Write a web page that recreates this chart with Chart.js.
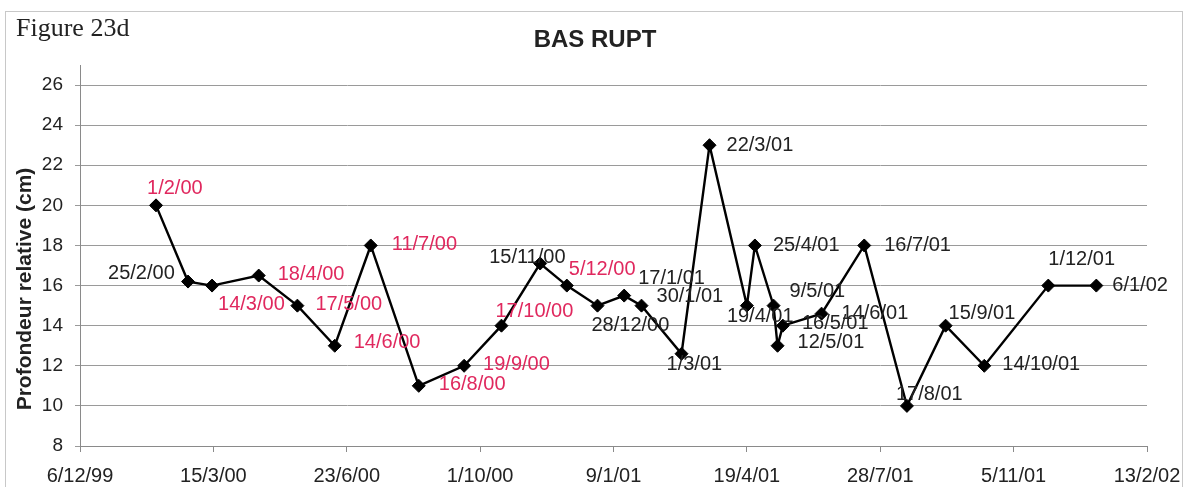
<!DOCTYPE html>
<html>
<head>
<meta charset="utf-8">
<title>BAS RUPT</title>
<script src="https://cdn.jsdelivr.net/npm/chart.js@4.4.1/dist/chart.umd.min.js"></script>
<style>
	html, body { margin: 0; padding: 0; background: #fff; }
	canvas { display: block; }
</style>
</head>
<body>
<canvas id="chart" width="1189" height="487"></canvas>
<script>
// sampling dates (d/m/yy) and relative depth in cm
const sampleDates = [
	"1/2/00", "25/2/00", "14/3/00", "18/4/00", "17/5/00", "14/6/00", "11/7/00", "16/8/00",
	"19/9/00", "17/10/00", "15/11/00", "5/12/00", "28/12/00", "17/1/01", "30/1/01", "1/3/01",
	"22/3/01", "19/4/01", "25/4/01", "9/5/01", "12/5/01", "16/5/01", "14/6/01", "16/7/01",
	"17/8/01", "15/9/01", "14/10/01", "1/12/01", "6/1/02"
];
const depthValues = [
	20, 16.2, 16, 16.5, 15, 13, 18, 11,
	12, 14, 17.1, 16, 15, 15.5, 15, 12.6,
	23, 15, 18, 15, 13, 14, 14.6, 18,
	10, 14, 12, 16, 16
];
const yTicks = [8, 10, 12, 14, 16, 18, 20, 22, 24, 26];
const axisStart = "6/12/99";
const axisEnd = "13/2/02";
const tickStepDays = 100;

// label styling (colour + offset from the marker, in px)
const RED = "#e0285e";
const INK = "#222";
const labelColours = [
	RED, INK, RED, RED, RED, RED, RED, RED,
	RED, RED, INK, RED, INK, INK, INK, INK,
	INK, INK, INK, INK, INK, INK, INK, INK,
	INK, INK, INK, INK, INK
];
const labelOffsets = [
	[-9, -17], [-80, -8], [6, 19], [19, -1], [18, -1], [19, -3], [21, -1], [20, -1],
	[19, -1], [-6, -14], [-51, -6], [2, -16], [-6, 20], [14, -17], [15, -9], [-15, 11],
	[17, 0], [-20, 11], [18, 0], [16, -14], [20, -3], [19, -2], [20, 0], [20, 0],
	[-11, -11], [3, -12], [18, -1], [0, -26], [16, 0]
];

const DAY = 86400000;
const SANS = "'Liberation Sans', Arial, sans-serif";

function parseDate(text) {
	const [d, m, y] = text.split("/").map(Number);
	const year = y < 50 ? 2000 + y : 1900 + y;
	return Date.UTC(year, m - 1, d);
}

const t0 = parseDate(axisStart);
const spanDays = (parseDate(axisEnd) - t0) / DAY;

function formatDay(offset) {
	const dt = new Date(t0 + offset * DAY);
	const yy = String(dt.getUTCFullYear() % 100).padStart(2, "0");
	return dt.getUTCDate() + "/" + (dt.getUTCMonth() + 1) + "/" + yy;
}

const points = sampleDates.map((d, i) => ({ x: (parseDate(d) - t0) / DAY, y: depthValues[i] }));

const decorations = {
	id: "decorations",
	beforeDraw(chart) {
		const ctx = chart.ctx;
		ctx.save();
		ctx.strokeStyle = "#c8c8c8";
		ctx.lineWidth = 1;
		ctx.strokeRect(5.5, 11.5, 1177, 480);

		ctx.fillStyle = "#222";
		ctx.font = "26px 'Liberation Serif', 'Times New Roman', serif";
		ctx.textAlign = "left";
		ctx.textBaseline = "alphabetic";
		ctx.fillText("Figure 23d", 16, 36);

		// chart title
		ctx.font = "bold 24px " + SANS;
		ctx.textAlign = "center";
		ctx.textBaseline = "middle";
		ctx.fillText("BAS RUPT", 595, 40);

		// y axis title
		ctx.translate(25, 289);
		ctx.rotate(-Math.PI / 2);
		ctx.font = "bold 21px " + SANS;
		ctx.fillText("Profondeur relative (cm)", 0, 0);
		ctx.restore();
	},
	afterDatasetsDraw(chart) {
		const ctx = chart.ctx;
		const meta = chart.getDatasetMeta(0);
		ctx.save();
		ctx.font = "20px " + SANS;
		ctx.textAlign = "left";
		ctx.textBaseline = "middle";
		meta.data.forEach((pt, i) => {
			const [dx, dy] = labelOffsets[i];
			ctx.fillStyle = labelColours[i];
			ctx.fillText(sampleDates[i], pt.x + dx, pt.y + dy);
		});
		ctx.restore();
	}
};

new Chart(document.getElementById("chart"), {
	type: "line",
	data: {
		datasets: [{
			data: points,
			borderColor: "#000",
			borderWidth: 2.4,
			tension: 0,
			pointStyle: "rectRot",
			pointRadius: 6.5,
			pointBackgroundColor: "#000",
			pointBorderColor: "#000",
			pointBorderWidth: 1
		}]
	},
	options: {
		responsive: false,
		animation: false,
		layout: { padding: { left: 0, right: 42, top: 65, bottom: 0 } },
		plugins: {
			legend: { display: false },
			tooltip: { enabled: false },
			title: { display: false }
		},
		scales: {
			x: {
				type: "linear",
				min: 0,
				max: spanDays,
				afterBuildTicks: (scale) => {
					const ticks = [];
					for (let v = 0; v <= spanDays; v += tickStepDays) ticks.push({ value: v });
					scale.ticks = ticks;
				},
				afterFit: (scale) => {
					scale.height = 41;
					scale.paddingLeft = 0;
					scale.paddingRight = 0;
				},
				border: { color: "#8a8a8a", width: 1 },
				grid: { drawOnChartArea: false, drawTicks: true, tickLength: 6, color: "#8a8a8a" },
				ticks: {
					color: "#222",
					font: { family: SANS, size: 20 },
					padding: 12,
					maxRotation: 0,
					callback: (value) => formatDay(value)
				}
			},
			y: {
				min: 8,
				max: 27,
				afterBuildTicks: (scale) => { scale.ticks = yTicks.map((v) => ({ value: v })); },
				afterFit: (scale) => { scale.width = 80; },
				border: { color: "#8a8a8a", width: 1 },
				grid: { color: "#9a9a9a", tickLength: 5 },
				ticks: {
					color: "#222",
					font: { family: SANS, size: 19 },
					padding: 12
				}
			}
		}
	},
	plugins: [decorations]
});
</script>
</body>
</html>
